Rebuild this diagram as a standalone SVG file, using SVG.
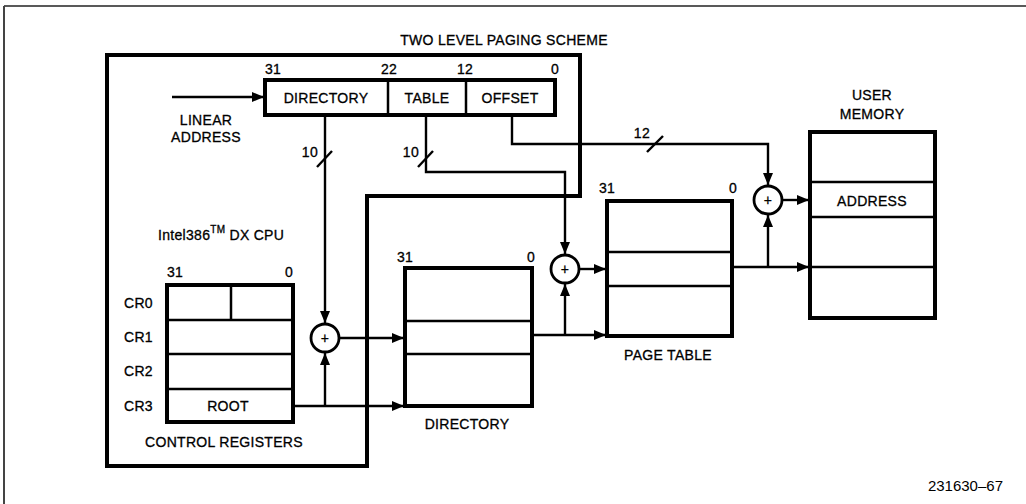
<svg xmlns="http://www.w3.org/2000/svg" width="1026" height="504" viewBox="0 0 1026 504">
<defs>
<style>
text{font-family:"Liberation Sans",Arial,sans-serif;font-size:14px;fill:#000;stroke:#000;stroke-width:0.3;letter-spacing:0.3px}
.m{text-anchor:middle}
.e{text-anchor:end}
.box{fill:#fff;stroke:#000;stroke-width:4}
.div{stroke:#000;stroke-width:2.5;fill:none}
.con{stroke:#000;stroke-width:2.4;fill:none}
.sum{fill:#fff;stroke:#000;stroke-width:2.8}
.fig{font-size:15px;letter-spacing:0;stroke-width:0}
</style>
<marker id="ah" markerUnits="userSpaceOnUse" markerWidth="12" markerHeight="10" refX="12" refY="5" orient="auto">
<path d="M0,0 L12,5 L0,10 Z" fill="#000"/>
</marker>
</defs>
<rect width="1026" height="504" fill="#fff"/>
<g id="frame">
<line x1="4" y1="6" x2="1026" y2="6" stroke="#222" stroke-width="1.5"/>
<line x1="4" y1="6" x2="4" y2="504" stroke="#444" stroke-width="2"/>
</g>
<g id="cpu">
<path d="M107,55 H580 V196 H367 V466 H107 Z" fill="none" stroke="#000" stroke-width="4"/>
<text x="504" y="45" class="m">TWO LEVEL PAGING SCHEME</text>
<text x="158" y="240">Intel386<tspan font-size="10" dy="-7">TM</tspan><tspan dy="7"> DX CPU</tspan></text>
</g>
<g id="linear-address">
<rect x="265" y="80" width="290" height="35" class="box"/>
<line x1="388" y1="80" x2="388" y2="115" class="div"/>
<line x1="466" y1="80" x2="466" y2="115" class="div"/>
<text x="326" y="103" class="m">DIRECTORY</text>
<text x="427" y="103" class="m">TABLE</text>
<text x="510" y="103" class="m">OFFSET</text>
<text x="265" y="74">31</text>
<text x="381" y="74">22</text>
<text x="457" y="74">12</text>
<text x="551" y="74">0</text>
<text x="206" y="125" class="m">LINEAR</text>
<text x="206" y="142" class="m">ADDRESS</text>
</g>
<g id="control-registers">
<rect x="167" y="285" width="126" height="137" class="box"/>
<line x1="167" y1="320" x2="293" y2="320" class="div"/>
<line x1="167" y1="354" x2="293" y2="354" class="div"/>
<line x1="167" y1="389" x2="293" y2="389" class="div"/>
<line x1="231" y1="285" x2="231" y2="320" class="div"/>
<text x="228" y="411" class="m">ROOT</text>
<text x="124" y="308">CR0</text>
<text x="124" y="342">CR1</text>
<text x="124" y="376">CR2</text>
<text x="124" y="411">CR3</text>
<text x="167" y="277">31</text>
<text x="293" y="277" class="e">0</text>
<text x="224" y="447" class="m">CONTROL REGISTERS</text>
</g>
<g id="directory">
<rect x="405" y="268" width="127" height="138" class="box"/>
<line x1="405" y1="321" x2="532" y2="321" class="div"/>
<line x1="405" y1="354" x2="532" y2="354" class="div"/>
<text x="397" y="262">31</text>
<text x="535" y="262" class="e">0</text>
<text x="467" y="429" class="m">DIRECTORY</text>
</g>
<g id="page-table">
<rect x="607" y="201" width="125" height="135" class="box"/>
<line x1="607" y1="252" x2="732" y2="252" class="div"/>
<line x1="607" y1="286" x2="732" y2="286" class="div"/>
<text x="599" y="193">31</text>
<text x="737" y="193" class="e">0</text>
<text x="668" y="360" class="m">PAGE TABLE</text>
</g>
<g id="user-memory">
<rect x="810" y="132" width="125" height="186" class="box"/>
<line x1="810" y1="182" x2="935" y2="182" class="div"/>
<line x1="810" y1="217" x2="935" y2="217" class="div"/>
<line x1="810" y1="267" x2="935" y2="267" class="div"/>
<text x="872" y="206" class="m">ADDRESS</text>
<text x="872" y="100" class="m">USER</text>
<text x="872" y="119" class="m">MEMORY</text>
</g>
<g id="connectors">
<path d="M172,97 H264" class="con" marker-end="url(#ah)"/>
<path d="M325,115 V323" class="con" marker-end="url(#ah)"/>
<path d="M426,115 V172 H565 V254" class="con" marker-end="url(#ah)"/>
<path d="M512,115 V144 H768 V185" class="con" marker-end="url(#ah)"/>
<path d="M293,406 H404" class="con" marker-end="url(#ah)"/>
<path d="M325,406 V353" class="con" marker-end="url(#ah)"/>
<path d="M339,338 H404" class="con" marker-end="url(#ah)"/>
<path d="M532,335 H606" class="con" marker-end="url(#ah)"/>
<path d="M565,335 V284" class="con" marker-end="url(#ah)"/>
<path d="M579,269 H606" class="con" marker-end="url(#ah)"/>
<path d="M732,267 H809" class="con" marker-end="url(#ah)"/>
<path d="M768,267 V215" class="con" marker-end="url(#ah)"/>
<path d="M783,200 H809" class="con" marker-end="url(#ah)"/>
<line x1="317" y1="167" x2="332" y2="151" class="con"/>
<line x1="418" y1="167" x2="433" y2="151" class="con"/>
<line x1="647" y1="152" x2="663" y2="136" class="con"/>
<text x="318" y="157" class="e">10</text>
<text x="419" y="157" class="e">10</text>
<text x="650" y="138" class="e">12</text>
</g>
<g id="adder-1">
<circle cx="325" cy="338" r="14" class="sum"/>
<text x="325" y="343" class="m" font-size="12">+</text>
</g>
<g id="adder-2">
<circle cx="565" cy="269" r="14" class="sum"/>
<text x="565" y="274" class="m" font-size="12">+</text>
</g>
<g id="adder-3">
<circle cx="768" cy="200" r="14" class="sum"/>
<text x="768" y="205" class="m" font-size="12">+</text>
</g>
<text x="1003" y="491" class="e fig">231630–67</text>
</svg>
